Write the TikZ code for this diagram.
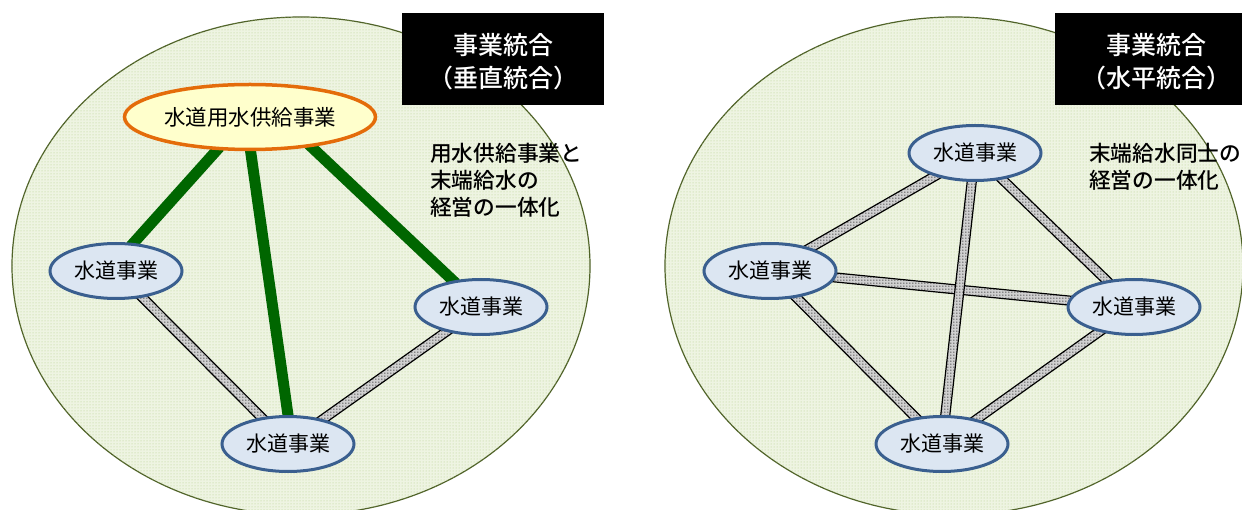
\documentclass[tikz,border=0pt]{standalone}
\usepackage{fontspec}
\setmainfont{Noto Sans CJK JP}
\newfontfamily\capfont{Noto Sans CJK JP}[UprightFont=* Medium]
\usetikzlibrary{shapes.geometric,patterns,calc}
\pgfdeclarepatternformonly{linkdots}{\pgfpoint{-1pt}{-1pt}}{\pgfpoint{1.6pt}{1.6pt}}{\pgfpoint{2.6pt}{2.6pt}}{\pgfpathcircle{\pgfpointorigin}{0.75pt}\pgfusepath{fill}}
\definecolor{bgfill}{HTML}{EEF4E2}
\definecolor{bgdot}{HTML}{B5CE8A}
\definecolor{fieldline}{HTML}{4F6228}
\definecolor{orng}{HTML}{E46C0A}
\definecolor{ylw}{HTML}{FFFFCC}
\definecolor{nblue}{HTML}{3A5F8F}
\definecolor{nfill}{HTML}{DCE6F2}
\definecolor{dgreen}{HTML}{006600}
\definecolor{linkgray}{HTML}{D0D0D0}
\definecolor{linkdot}{HTML}{3C3C3C}
\pgfdeclarelayer{back}\pgfdeclarelayer{mid}\pgfsetlayers{back,mid,main}
\tikzset{
  field/.style={draw=fieldline, line width=1.2pt, fill=bgfill},
  fielddots/.style={pattern=dots, pattern color=bgdot},
  biz/.style={ellipse, draw=nblue, line width=3pt, fill=nfill, minimum width=132pt, minimum height=55pt, inner sep=0pt, font=\fontsize{21}{24}\selectfont},
  supply/.style={ellipse, draw=orng, line width=3.5pt, fill=ylw, minimum width=251pt, minimum height=65pt, inner sep=0pt, font=\fontsize{21.5}{24}\selectfont},
  trunk/.style={draw=dgreen, line width=11pt, shorten <=-4pt, shorten >=-4pt},
  link/.style={preaction={fill=linkgray}, preaction={pattern=linkdots, pattern color=linkdot}, draw=black, line width=1.2pt},
  titlebox/.style={fill=black, draw=none},
  titletext/.style={text=white, align=center, inner sep=0pt, font=\capfont\fontsize{25}{33}\selectfont},
  caption/.style={align=left, anchor=west, inner sep=0pt, font=\capfont\fontsize{21.7}{27}\selectfont},
}
\newcommand\linkband[2]{\path[link] ($(#1)!4.5pt!90:(#2)$) -- ($(#2)!4.5pt!-90:(#1)$) -- ($(#2)!4.5pt!90:(#1)$) -- ($(#1)!4.5pt!-90:(#2)$) -- cycle;}
\begin{document}
\begin{tikzpicture}[x=1pt, y=-1pt]
\useasboundingbox (0,0) rectangle (1242,510);
% nodes left
\node[supply] (sup) at (250,117) {水道用水供給事業};
\node[biz] (la) at (116,271) {水道事業};
\node[biz] (lb) at (481,307) {水道事業};
\node[biz] (lc) at (288,444) {水道事業};
% nodes right
\node[biz] (ra) at (975,153) {水道事業};
\node[biz] (rb) at (770,271) {水道事業};
\node[biz] (rc) at (1134,307) {水道事業};
\node[biz] (rd) at (942,444) {水道事業};
\begin{pgfonlayer}{back}
  \fill[white] (0,0) rectangle (1242,510);
  \path[field] (301,266) ellipse [x radius=289pt, y radius=249pt];
  \path[fielddots] (301,266) ellipse [x radius=289pt, y radius=249pt];
  \path[field] (954,266) ellipse [x radius=289pt, y radius=249pt];
  \path[fielddots] (954,266) ellipse [x radius=289pt, y radius=249pt];
\end{pgfonlayer}
\begin{pgfonlayer}{mid}
  \linkband{la}{lc}
  \linkband{lb}{lc}
  \draw[trunk] (sup.-135) -- (la.58);
  \draw[trunk] (sup.-89) -- (lc.90);
  \draw[trunk] (sup.-26) -- (lb);
  \linkband{rb}{rc}
  \linkband{ra}{rb}
  \linkband{ra}{rc}
  \linkband{rb}{rd}
  \linkband{rc}{rd}
  \linkband{ra}{rd}
\end{pgfonlayer}
% title boxes
\path[titlebox] (402,13) rectangle (604,105);
\node[titletext] (t1) at (503,61.5) {事業統合\\（垂直統合）};
\path[titlebox] (1055,13) rectangle (1242,105);
\node[titletext] (t2) at (1156,61.5) {事業統合\\（水平統合）};
% captions
\node[caption] (c1) at (430,180) {用水供給事業と\\末端給水の\\経営の一体化};
\node[caption] (c2) at (1089,166.5) {末端給水同士の\\経営の一体化};
\end{tikzpicture}
\end{document}
